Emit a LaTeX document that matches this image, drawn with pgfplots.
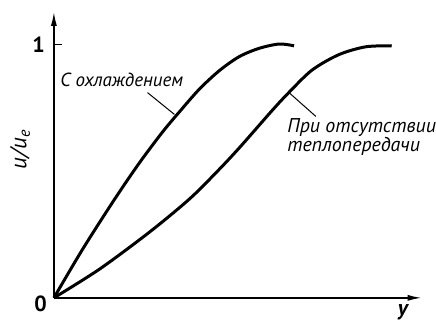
\documentclass[border=0pt]{standalone}
\usepackage{fontspec}
\setmainfont{PT Sans}
\usepackage{pgfplots}
\pgfplotsset{compat=1.18}
\usetikzlibrary{arrows.meta}

\begin{document}
\begin{tikzpicture}
\begin{axis}[
  x=127pt, y=127pt,
  xmin=0, xmax=1.453,
  ymin=0, ymax=1.130,
  axis lines=left,
  axis line style={line width=0.75pt, -{Latex[length=7pt,width=3pt]}},
  clip=false,
  xtick=\empty,
  ytick={1},
  yticklabels={\textbf{1}},
  tick align=inside,
  major tick length=4pt,
  tick style={line width=0.6pt, black},
  /pgf/number format/assume math mode=true,
  yticklabel style={font=\fontsize{11}{11}\selectfont, xshift=-1pt},
  xlabel={\textbf{\itshape y}},
  xlabel style={at={(axis cs:1.382,-0.055)}, anchor=center, font=\fontsize{11}{11}\selectfont},
  ylabel={\itshape u/u\textsubscript{e}},
  ylabel style={at={(axis cs:-0.134,0.587)}, anchor=center, font=\fontsize{11.5}{11.5}\selectfont},
]
% bounding box of the figure
\path (axis cs:-0.213,-0.087) rectangle (axis cs:1.504,1.177);

% with cooling
\addplot[black, line width=1.5pt, smooth, tension=0.5] coordinates {
  (0,0) (0.114,0.193) (0.240,0.390) (0.339,0.535) (0.429,0.655)
  (0.496,0.735) (0.575,0.825) (0.654,0.898) (0.732,0.953)
  (0.811,0.986) (0.890,1.003) (0.949,0.996)
};
% no heat transfer
\addplot[black, line width=1.5pt, smooth, tension=0.5] coordinates {
  (0,0) (0.181,0.114) (0.378,0.260) (0.535,0.390) (0.642,0.496)
  (0.732,0.592) (0.862,0.740) (0.929,0.812) (1.020,0.900)
  (1.126,0.961) (1.232,0.992) (1.335,0.996)
};

\node[anchor=east, font=\bfseries\fontsize{11}{11}\selectfont] at (axis cs:0,-0.025) {0};

\draw[line width=0.5pt] (axis cs:0.370,0.811) -- (axis cs:0.476,0.725);
\node[font=\itshape\fontsize{9.5}{9.5}\selectfont] at (axis cs:0.268,0.862) {С охлаждением};

\draw[line width=0.5pt] (axis cs:0.929,0.811) -- (axis cs:1.035,0.717);
\node[anchor=west, align=left, inner sep=0pt, font=\itshape\fontsize{10}{9.5}\selectfont]
  at (axis cs:0.921,0.634) {При отсутствии\\теплопередачи};
\end{axis}
\end{tikzpicture}
\end{document}
